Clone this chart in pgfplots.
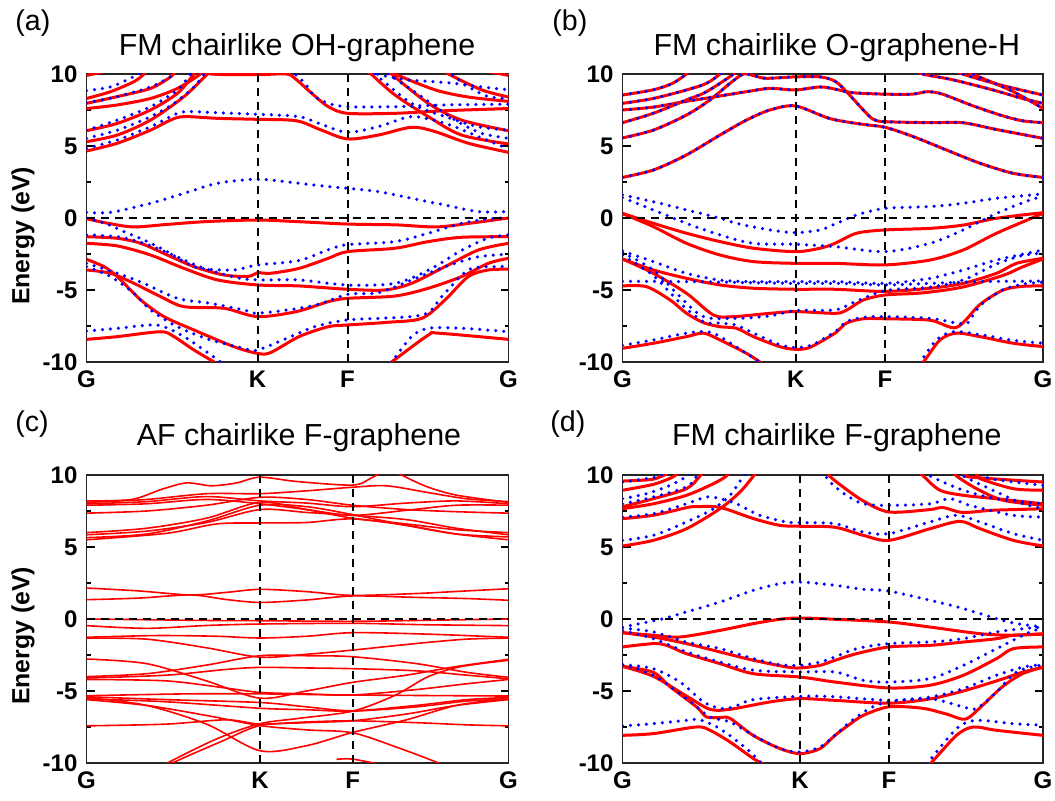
\documentclass[border=0pt]{standalone}
\usepackage{fontspec}
\setmainfont{Liberation Sans}
\usepackage{pgfplots}
\pgfplotsset{compat=1.18}

% band styles: red = spin up (solid), blue = spin down (dotted)
\pgfplotsset{
  rb/.style={red, line width=1.5pt, smooth, tension=0.5, no markers},
  rc/.style={red, line width=0.8pt, smooth, tension=0.5, no markers},
  bb/.style={blue, line width=1.75pt, line cap=round, dash pattern=on 0pt off 4pt, smooth, tension=0.5, no markers},
  rbb/.style={bb, preaction={draw=red, solid, line width=1.5pt, line cap=butt}},
  guide/.style={black, line width=1pt, dash pattern=on 4pt off 3pt, no markers},
  bandaxis/.style={
    scale only axis, height=144pt, anchor=south west,
    xmin=0, ymin=-10, ymax=10,
    ytick={-10,-5,0,5,10}, yticklabels={-10,-5,0,5,10},
    minor ytick={-7.5,-2.5,2.5,7.5},
    xticklabels={G,K,F,G},
    tick align=inside, major tick length=4pt, minor tick length=2pt,
    every tick/.style={black, line width=0.6pt},
    axis line style={black!85, line width=0.7pt},
    ticklabel style={font=\fontsize{12}{12}\selectfont\bfseries},
    yticklabel style={xshift=-1pt},
    xticklabel style={yshift=-1pt},
  },
}

\begin{document}
\begin{tikzpicture}
\path[use as bounding box] (0,0) rectangle (527.5pt,400.5pt);

% ---------------- (a) FM chairlike OH-graphene ----------------
\begin{axis}[bandaxis, at={(43.25pt,219.5pt)}, width=211pt, xmax=422, xtick={0,171,261,422}]
\addplot[rb] coordinates {(0,-0.05) (20,-0.35) (47,-0.62) (80,-0.45) (120,-0.25) (171,-0.14) (210,-0.25) (261,-0.42) (310,-0.48) (350,-0.62) (385,-0.35) (422,0)};
\addplot[rb] coordinates {(0,-1.3) (30.8,-1.41) (54.2,-1.76) (80.8,-2.57) (107.5,-3.38) (137.5,-3.96) (162,-4.05) (171,-3.8) (184,-3.84) (212.5,-3.5) (241.8,-2.8) (261,-2.34) (308.5,-2.1) (341.8,-1.64) (375,-1.34) (422,-1.3)};
\addplot[rb] coordinates {(0,-1.76) (30.8,-1.94) (64,-2.57) (97.5,-3.5) (131,-4.3) (171,-4.65) (212.5,-4.72) (261,-4.95) (298.5,-5.0) (325,-4.54) (358.5,-3.38) (392,-2.22) (422,-1.76)};
\addplot[rb] coordinates {(0,-2.87) (17.5,-3.38) (30.8,-4.07) (54.2,-5.69) (77.5,-6.85) (107.5,-7.78) (147.5,-8.94) (171,-9.4) (184,-9.35) (212.5,-8.24) (241.8,-7.55) (261,-7.43) (300,-7.25) (335.2,-6.97) (358.5,-5.69) (381.8,-4.07) (401.8,-3.61) (422,-3.56)};
\addplot[rb] coordinates {(0,-3.61) (24,-3.84) (47.5,-4.54) (74,-5.46) (97.5,-6.16) (137.5,-6.27) (171,-6.85) (210,-6.5) (241.8,-5.81) (261,-5.58) (308.5,-5.42) (341.8,-4.88) (375,-4.07) (401.8,-3.15) (422,-2.8)};
\addplot[rb] coordinates {(0,-8.43) (30.8,-8.24) (74,-7.9) (87.5,-8.24) (107.5,-9.17) (127.5,-10) (140,-10.6)};
\addplot[rb] coordinates {(290,-10.7) (305,-10) (341.8,-8.13) (351.8,-8.0) (422,-8.43)};
\addplot[rb] coordinates {(0,4.65) (30.8,5.19) (64,6.1) (84,6.8) (97.5,7.04) (131,6.92) (171,6.85) (210,6.75) (235,6.1) (261,5.49) (291.8,5.76) (325,6.3) (348.5,6.0) (381.8,5.19) (422,4.56)};
\addplot[rb] coordinates {(0,5.3) (30.8,5.76) (64,6.8) (97.5,8.43) (121,10) (130,10.6)};
\addplot[rb] coordinates {(275,10.6) (284.5,10) (308.5,8.54) (341.8,7.04) (375,5.76) (422,5.14)};
\addplot[rb] coordinates {(0,6.06) (30.8,6.57) (64,7.5) (91,8.66) (107.5,10) (112,10.5)};
\addplot[rb] coordinates {(298,10.5) (305,10) (341.8,7.96) (375,6.8) (422,6.06)};
\addplot[rb] coordinates {(0,7.6) (30.8,7.85) (64,8.3) (91,9.0) (114,10) (118,10.4)};
\addplot[rb] coordinates {(0,7.96) (30.8,8.43) (64,9.0) (84,9.8) (90,10.3)};
\addplot[rb] coordinates {(0,8.3) (24,8.77) (47.5,9.47) (57.5,10) (60,10.3)};
\addplot[rb] coordinates {(0,9.9) (20,10.2)};
\addplot[rb] coordinates {(110,10.4) (125,10) (171,9.95) (200,10) (210,9.6) (225.2,8.66) (241.8,7.73) (261,7.27) (308.5,7.27) (358.5,7.45) (422,7.6)};
\addplot[rb] coordinates {(300,10.4) (308.5,10) (348.5,8.9) (381.8,8.4) (422,8.1)};
\addplot[rb] coordinates {(355,10.4) (362,10) (395,8.9) (422,8.4)};
\addplot[rb] coordinates {(400,10.2) (422,9.9)};
\addplot[bb] coordinates {(0,0.39) (24,0.39) (64,1.02) (97.5,1.71) (131,2.41) (171,2.69) (212.5,2.41) (241.8,2.18) (261,2.06) (291.8,1.83) (325,1.37) (358.5,0.9) (392,0.44) (422,0.44)};
\addplot[bb] coordinates {(0,0) (20,-0.4) (37.5,-0.95) (57.5,-1.53) (77.5,-2.22) (97.5,-3.03) (114,-3.5) (147.5,-3.61) (171,-3.26) (212.5,-2.96) (241.8,-2.2) (261,-1.85) (308.5,-1.64) (341.8,-1.06) (375,-0.37) (401.8,-0.07) (422,0)};
\addplot[bb] coordinates {(0,-1.18) (30.8,-1.3) (57.5,-1.76) (87.5,-2.6) (114,-3.4) (147.5,-4.1) (171,-4.3) (212.5,-4.3) (261,-4.66) (308.5,-4.54) (341.8,-3.63) (375,-2.25) (401.8,-1.4) (422,-1.18)};
\addplot[bb] coordinates {(0,-3.15) (30.8,-3.84) (57.5,-4.54) (90.8,-5.58) (124,-5.93) (157.5,-6.39) (171,-6.62) (212.5,-6.27) (235.2,-5.93) (261,-5.3) (291.8,-5.19) (325,-4.31) (358.5,-3.38) (392,-2.69) (422,-2.52)};
\addplot[bb] coordinates {(0,-3.38) (24,-4.07) (47.5,-5.23) (64,-6.39) (90.8,-7.55) (124,-8.47) (157.5,-9.05) (171,-9.17) (212.5,-8.0) (228.5,-7.55) (261,-7.08) (335.2,-6.74) (355.2,-5.46) (381.8,-3.61) (408.5,-3.38) (422,-3.38)};
\addplot[bb] coordinates {(0,-7.85) (30.8,-7.66) (64,-7.43) (77.5,-7.55) (97.5,-8.24) (117.5,-9.17) (134,-10) (140,-10.4)};
\addplot[bb] coordinates {(298,-10.4) (305,-10) (325,-8.24) (341.8,-7.66) (375,-7.66) (422,-7.9)};
\addplot[bb] coordinates {(0,4.84) (30.8,5.42) (64,6.34) (84,7.04) (97.5,7.38) (131,7.31) (171,7.2) (212.5,7.04) (235,6.5) (261,5.95) (291.8,6.34) (325,7.04) (358.5,6.57) (392,5.65) (422,4.79)};
\addplot[bb] coordinates {(0,5.53) (30.8,6.1) (64,7.04) (87.5,7.96) (107.5,9.1) (117.5,10) (122,10.4)};
\addplot[bb] coordinates {(296,10.4) (301.8,10) (335,8.43) (368.5,6.8) (395,5.88) (422,5.53)};
\addplot[bb] coordinates {(0,6.1) (30.8,6.8) (64,7.73) (91,8.9) (104,10) (108,10.4)};
\addplot[bb] coordinates {(283,10.4) (288.5,10) (325,7.96) (358.5,7.04) (392,6.34) (422,6.1)};
\addplot[bb] coordinates {(0,8.85) (24,9.1) (40.8,9.6) (52,10) (56,10.3)};
\addplot[bb] coordinates {(0,8.0) (30.8,8.43) (64,9.1) (84,9.8) (90,10.2)};
\addplot[bb] coordinates {(205,10.4) (208.5,10) (218.5,9.35) (228.5,8.43) (241.8,7.96) (261,7.73) (308.5,7.73) (358.5,7.85) (422,7.9)};
\addplot[bb] coordinates {(285,10.3) (290,10) (320,9.6) (360,9.4) (395,9.1) (422,8.9)};
\addplot[bb] coordinates {(360,10.3) (365,10) (382,9.1) (402,8.43) (422,8.3)};
\addplot[guide] coordinates {(171,-10) (171,10)};
\addplot[guide] coordinates {(261,-10) (261,10)};
\addplot[guide] coordinates {(0,0) (422,0)};
\end{axis}

% ---------------- (b) FM chairlike O-graphene-H ----------------
\begin{axis}[bandaxis, at={(311.25pt,219.5pt)}, width=210.25pt, xmax=420.5, xtick={0,173.2,262.5,420.5}]
\addplot[rbb] coordinates {(0,2.82) (30.8,3.33) (64,4.38) (97.5,5.76) (124,6.8) (147.5,7.5) (173,7.78) (207.5,6.9) (240.8,6.5) (262.5,6.3) (290.8,5.65) (324,4.72) (357.5,3.8) (390.8,3.1) (420.5,2.82)};
\addplot[rbb] coordinates {(0,5.56) (30.8,6.1) (64,7.15) (87.5,8.2) (107.5,9.35) (121,10) (133,9.85) (144,9.7) (173,9.8) (197.5,9.8) (212.5,9.5) (224,8.77) (240.8,7.5) (250.8,6.85) (262.5,6.69) (307.5,6.62) (340,6.62) (370,6.2) (400,5.8) (420.5,5.53)};
\addplot[rbb] coordinates {(0,7.5) (30.8,7.7) (64,8.1) (91,8.4) (124,8.77) (147.5,9.0) (173,8.89) (197.5,9.1) (212.5,8.95) (230,8.7) (262.5,8.6) (290,8.6) (305,8.77) (320,8.6) (350,7.8) (380,7.1) (400,6.75) (420.5,6.62)};
\addplot[rbb] coordinates {(0,6.62) (30.8,7.27) (64,8.2) (81,8.66) (97.5,9.35) (111,10) (115,10.3)};
\addplot[rbb] coordinates {(0,7.96) (30.8,8.3) (64,8.89) (84,9.35) (97.5,10) (100,10.3)};
\addplot[rbb] coordinates {(0,8.54) (30.8,8.9) (50,9.35) (64,10) (67,10.3)};
\addplot[rbb] coordinates {(295,10.3) (300,10) (330,9.6) (370,8.9) (400,8.3) (420.5,7.96)};
\addplot[rbb] coordinates {(335,10.3) (340,10) (380,9.2) (420.5,8.54)};
\addplot[rbb] coordinates {(345,10.3) (350,10) (390,8.8) (420.5,7.6)};
\addplot[rb] coordinates {(0,0.32) (30.8,-0.37) (64,-1.06) (97.5,-1.64) (131,-2.1) (173,-2.34) (197.5,-2.1) (212.5,-1.76) (234,-1.06) (262.5,-0.83) (307.5,-0.72) (340.8,-0.49) (374,-0.02) (420.5,0.37)};
\addplot[rb] coordinates {(0,0.3) (30.8,-0.6) (64,-1.76) (97.5,-2.57) (131,-3.03) (173,-3.15) (212.5,-3.15) (262.5,-3.26) (307.5,-2.92) (340.8,-2.22) (374,-1.06) (420.5,0.32)};
\addplot[rb] coordinates {(0,-2.85) (30.8,-3.61) (64,-4.19) (97.5,-4.65) (131,-4.88) (173,-4.95) (212.5,-4.95) (262.5,-5.1) (307.5,-4.88) (340.8,-4.54) (374,-3.84) (394,-3.15) (420.5,-2.8)};
\addplot[rb] coordinates {(0,-2.85) (30.8,-3.84) (64,-5.23) (91,-6.74) (111,-6.85) (147.5,-6.62) (173,-6.5) (212.5,-6.62) (224,-6.4) (240.8,-5.7) (262.5,-5.35) (300,-5.2) (340,-4.8) (380,-4.0) (400,-3.4) (420.5,-2.85)};
\addplot[rb] coordinates {(0,-4.72) (24,-4.77) (47.5,-5.69) (64,-6.62) (81,-7.27) (97.5,-7.55) (114,-7.66) (131,-8.24) (157.5,-8.94) (173,-9.12) (187.5,-8.98) (212.5,-8.0) (224,-7.3) (240.8,-7.0) (262.5,-7.0) (307.5,-7.1) (334,-7.6) (357.5,-6.0) (380.8,-5.0) (400,-4.75) (420.5,-4.72)};
\addplot[rb] coordinates {(0,-9.05) (30.8,-8.7) (64,-8.24) (81,-8.0) (97.5,-8.47) (124,-9.4) (137.5,-10) (150,-10.5)};
\addplot[rb] coordinates {(290,-10.5) (300.8,-10) (317.5,-8.47) (334,-8.0) (357.5,-8.24) (390.8,-8.7) (420.5,-8.93)};
\addplot[bb] coordinates {(0,1.6) (30.8,1.13) (64,0.56) (97.5,-0.02) (114,-0.37) (147.5,-0.83) (173,-1.02) (197.5,-0.83) (212.5,-0.42) (234,0.21) (262.5,0.67) (307.5,0.79) (340.8,1.02) (374,1.37) (420.5,1.67)};
\addplot[bb] coordinates {(0,1.41) (30.8,0.56) (64,-0.37) (97.5,-1.18) (131,-1.76) (173,-1.83) (212.5,-1.99) (262.5,-2.34) (307.5,-1.76) (340.8,-0.83) (374,0.32) (407.5,1.25) (420.5,1.48)};
\addplot[bb] coordinates {(0,-2.29) (30.8,-3.03) (64,-3.84) (97.5,-4.31) (131,-4.42) (173,-4.42) (212.5,-4.42) (262.5,-4.54) (307.5,-4.19) (340.8,-3.61) (374,-2.92) (420.5,-2.22)};
\addplot[bb] coordinates {(0,-4.4) (64,-4.42) (173,-4.54) (212.5,-4.54) (262.5,-4.65) (307.5,-4.54) (357.5,-4.42) (420.5,-4.38)};
\addplot[bb] coordinates {(0,-2.4) (30.8,-3.61) (57.5,-5.46) (81,-6.85) (114,-6.97) (147.5,-6.8) (173,-6.43) (212.5,-6.39) (230,-5.9) (262.5,-5.05) (307.5,-4.8) (340.8,-4.3) (374,-3.2) (400,-2.6) (420.5,-2.45)};
\addplot[bb] coordinates {(0,-2.6) (30.8,-4.0) (57.5,-5.9) (81,-7.2) (97.5,-7.3) (114,-7.45) (131,-8.0) (157.5,-8.8) (173,-9.0) (190,-8.8) (212.5,-7.9) (224,-7.2) (240.8,-6.9) (262.5,-6.85) (307.5,-6.97) (334,-7.3) (345,-7.3) (357.5,-6.1) (380,-5.0) (400,-4.6) (420.5,-4.45)};
\addplot[bb] coordinates {(0,-8.84) (30.8,-8.47) (64,-8.0) (84,-7.9) (97.5,-8.24) (124,-9.4) (137.5,-10) (145,-10.4)};
\addplot[bb] coordinates {(290,-10.4) (297.5,-10) (314,-8.47) (330.8,-7.9) (357.5,-8.1) (390.8,-8.5) (420.5,-8.7)};
\addplot[guide] coordinates {(173.2,-10) (173.2,10)};
\addplot[guide] coordinates {(262.5,-10) (262.5,10)};
\addplot[guide] coordinates {(0,0) (420.5,0)};
\end{axis}

% ---------------- (c) AF chairlike F-graphene ----------------
\begin{axis}[bandaxis, at={(43.25pt,19pt)}, width=211pt, xmax=422, xtick={0,173.5,266.2,422}]
\addplot[rc] coordinates {(0,8.2) (45,8.3) (75,9.0) (100,9.45) (125,9.25) (150,9.45) (173.5,9.85) (210,9.55) (266,9.3) (285,9.8) (300,10.4)};
\addplot[rc] coordinates {(0,8.1) (60,8.3) (120,8.7) (173.5,8.7) (220,8.9) (266,9.15) (300,9.25) (340,8.8) (380,8.35) (422,8.15)};
\addplot[rc] coordinates {(0,8.0) (60,8.15) (120,8.5) (173.5,8.2) (220,8.05) (266,7.8) (320,8.05) (370,8.2) (422,8.0)};
\addplot[rc] coordinates {(0,7.9) (60,8.0) (120,8.3) (173.5,8.0) (220,7.6) (266,7.2) (320,7.55) (370,7.9) (422,7.9)};
\addplot[rc] coordinates {(0,7.35) (60,7.5) (120,7.9) (173.5,8.45) (220,8.3) (266,7.9) (320,7.6) (370,7.45) (422,7.35)};
\addplot[rc] coordinates {(0,6.0) (60,6.3) (120,7.0) (173.5,8.1) (220,7.6) (266,7.0) (320,6.6) (370,6.2) (422,6.0)};
\addplot[rc] coordinates {(0,5.85) (60,6.1) (120,6.7) (173.5,7.6) (220,7.4) (266,7.2) (320,6.9) (370,6.3) (422,5.85)};
\addplot[rc] coordinates {(0,5.65) (60,5.9) (120,6.8) (173.5,7.9) (220,7.8) (266,7.25) (320,6.5) (370,5.9) (422,5.7)};
\addplot[rc] coordinates {(0,5.5) (80,5.95) (130,6.6) (173.5,6.67) (220,6.7) (266,6.95) (320,6.5) (370,5.9) (422,5.5)};
\addplot[rc] coordinates {(305,10.4) (315,10) (340,9.2) (370,8.6) (422,8.1)};
\addplot[rc] coordinates {(0,2.15) (52,1.95) (104,1.67) (140,1.85) (173.5,2.06) (220,1.9) (266,1.64) (330,1.77) (380,1.95) (422,2.1)};
\addplot[rc] coordinates {(0,1.34) (52,1.45) (104,1.67) (140,1.35) (173.5,1.15) (220,1.32) (266,1.6) (330,1.5) (380,1.42) (422,1.3)};
\addplot[rc] coordinates {(0,0) (120,-0.1) (173.5,-0.12) (266,-0.16) (350,-0.08) (422,0)};
\addplot[rc] coordinates {(0,-0.46) (60,-0.65) (120,-0.45) (173.5,-0.35) (266,-0.3) (340,-0.4) (422,-0.46)};
\addplot[rc] coordinates {(0,-1.27) (70,-1.15) (130,-1.2) (173.5,-1.32) (220,-1.2) (266,-0.95) (340,-1.05) (422,-1.27)};
\addplot[rc] coordinates {(0,-1.33) (60,-1.4) (120,-2.0) (173.5,-2.65) (220,-2.45) (266,-2.16) (330,-1.7) (380,-1.4) (422,-1.33)};
\addplot[rc] coordinates {(0,-4.0) (60,-3.8) (120,-3.2) (173.5,-2.55) (220,-2.55) (266,-2.62) (330,-3.1) (380,-3.7) (422,-4.05)};
\addplot[rc] coordinates {(0,-4.1) (80,-3.9) (140,-3.5) (173.5,-3.36) (220,-3.4) (266,-3.45) (330,-3.6) (380,-3.9) (422,-4.15)};
\addplot[rc] coordinates {(0,-4.2) (80,-4.3) (140,-4.8) (173.5,-5.1) (220,-5.2) (266,-5.28) (330,-4.9) (380,-4.5) (422,-4.2)};
\addplot[rc] coordinates {(0,-2.78) (60,-3.1) (120,-4.3) (173.5,-5.5) (220,-5.0) (266,-4.4) (320,-3.9) (370,-3.3) (422,-2.8)};
\addplot[rc] coordinates {(0,-5.45) (60,-6.0) (120,-7.3) (173.5,-9.15) (220,-8.8) (266,-7.88) (320,-7.0) (370,-6.0) (422,-5.5)};
\addplot[rc] coordinates {(0,-5.33) (100,-5.2) (173.5,-5.2) (266,-5.28) (422,-5.35)};
\addplot[rc] coordinates {(0,-5.4) (80,-5.6) (173.5,-5.8) (220,-6.1) (266,-6.37) (330,-6.0) (380,-5.6) (422,-5.45)};
\addplot[rc] coordinates {(0,-5.55) (80,-5.75) (173.5,-6.2) (220,-6.3) (266,-6.4) (330,-6.1) (380,-5.7) (422,-5.55)};
\addplot[rc] coordinates {(0,-7.42) (80,-7.3) (140,-7.0) (173.5,-7.3) (220,-7.15) (266,-7.07) (330,-7.2) (380,-7.35) (422,-7.42)};
\addplot[rc] coordinates {(70,-10.6) (81,-10.0) (131,-8.3) (173.5,-7.27) (212.5,-6.9) (266,-6.4) (308.5,-5.3) (341.8,-4.0) (375,-3.3) (422,-2.87)};
\addplot[rc] coordinates {(75,-10.6) (86,-10.0) (135,-8.5) (173.5,-7.4) (220,-7.2) (266,-7.07) (320,-6.6) (370,-6.0) (422,-5.6)};
\addplot[rc] coordinates {(0,-5.6) (60,-6.0) (120,-6.7) (173.5,-7.4) (220,-7.7) (266,-7.9) (310,-8.9) (352,-10) (365,-10.5)};
\addplot[rc] coordinates {(250,-9.75) (266,-9.73) (300,-10.2) (310,-10.5)};
\addplot[guide] coordinates {(173.5,-10) (173.5,10)};
\addplot[guide] coordinates {(266.2,-10) (266.2,10)};
\addplot[guide] coordinates {(0,0) (422,0)};
\end{axis}

% ---------------- (d) FM chairlike F-graphene ----------------
\begin{axis}[bandaxis, at={(311.25pt,19pt)}, width=210.25pt, xmax=420.5, xtick={0,177.5,266.5,420.5}]
\addplot[rb] coordinates {(0,-0.95) (30.8,-1.13) (57.5,-1.25) (97.5,-0.79) (131,-0.32) (157.5,-0.02) (177.5,0.07) (212.5,-0.02) (266.5,-0.21) (307.5,-0.56) (357.5,-1.02) (390.8,-1.13) (420.5,-1.02)};
\addplot[rb] coordinates {(0,-0.95) (30.8,-1.25) (64,-1.71) (97.5,-2.29) (131,-2.87) (164,-3.33) (177.5,-3.4) (197.5,-3.22) (212.5,-2.87) (234,-2.41) (266.5,-1.94) (307.5,-1.83) (340.8,-1.6) (374,-1.37) (390.8,-1.13) (420.5,-1.06)};
\addplot[rb] coordinates {(0,-1.94) (30.8,-1.71) (44,-1.83) (64,-2.41) (97.5,-3.1) (131,-3.8) (177.5,-4.03) (212.5,-4.38) (266.5,-4.79) (307.5,-4.6) (340.8,-3.91) (374,-2.75) (390.8,-2.06) (420.5,-1.94)};
\addplot[rb] coordinates {(0,-3.29) (30.8,-3.7) (47.5,-4.7) (74,-6.1) (84,-6.8) (97.5,-6.85) (107.5,-6.9) (131,-8.1) (157.5,-9.0) (177.5,-9.35) (197.5,-9.0) (212.5,-8.08) (227.5,-7.3) (240.8,-6.69) (266.5,-6.1) (300,-6.2) (324,-6.6) (343,-6.95) (360,-6.0) (380,-4.7) (400,-3.8) (420.5,-3.35)};
\addplot[rb] coordinates {(0,-3.29) (30.8,-3.98) (64,-5.35) (87.5,-6.27) (107.5,-6.27) (147.5,-5.76) (177.5,-5.53) (212.5,-5.65) (266.5,-5.85) (307.5,-5.55) (340.8,-5.0) (374,-4.3) (400,-3.7) (420.5,-3.35)};
\addplot[rb] coordinates {(0,-8.08) (30.8,-7.96) (74,-7.5) (87.5,-7.73) (107.5,-8.54) (131,-9.7) (141,-10.07) (150,-10.5)};
\addplot[rb] coordinates {(298,-10.5) (307.5,-10.07) (334,-8.08) (350.8,-7.5) (374,-7.73) (420.5,-8.08)};
\addplot[rb] coordinates {(0,5.07) (30.8,5.46) (64,6.27) (97.5,7.66) (117.5,8.82) (131,9.93) (135,10.3)};
\addplot[rb] coordinates {(0,6.97) (30.8,7.2) (64,7.73) (74,7.8) (97.5,7.75) (131,6.97) (157.5,6.5) (177.5,6.44) (212.5,6.37) (240.8,5.81) (266.5,5.46) (307.5,6.27) (337.5,6.78) (357.5,6.27) (390.8,5.46) (420.5,5.07)};
\addplot[rb] coordinates {(0,7.66) (30.8,8.0) (64,8.59) (91,9.4) (104,9.93) (107,10.3)};
\addplot[rb] coordinates {(205,10.3) (207.5,9.9) (220,9.2) (240.8,8.2) (266.5,7.43) (307.5,7.6) (320,7.75) (340,7.4) (370,7.55) (420.5,7.65)};
\addplot[rb] coordinates {(0,8.94) (30.8,9.35) (50,9.85) (58,10.3)};
\addplot[rb] coordinates {(0,9.58) (30,9.7) (45,10.1)};
\addplot[rb] coordinates {(0,7.8) (30.8,8.35) (64,9.05) (77.5,9.93) (80,10.3)};
\addplot[rb] coordinates {(296,10.3) (300.8,9.93) (317.5,8.94) (340.8,8.59) (374,8.35) (420.5,8.0)};
\addplot[rb] coordinates {(330,10.3) (334,9.93) (354,9.05) (380.8,8.24) (420.5,7.9)};
\addplot[rb] coordinates {(345,10.1) (347.5,9.86) (420.5,9.51)};
\addplot[rb] coordinates {(355,10.1) (357.5,9.75) (390.8,9.05) (420.5,8.94)};
\addplot[bb] coordinates {(0,-0.56) (17.5,-0.32) (40.8,0.02) (64,0.49) (97.5,1.18) (131,1.99) (157.5,2.45) (177.5,2.57) (212.5,2.34) (240.8,2.06) (266.5,1.94) (307.5,1.3) (340.8,0.72) (374,0.02) (394,-0.32) (420.5,-0.56)};
\addplot[bb] coordinates {(0,-0.63) (30.8,-0.9) (64,-1.6) (97.5,-2.06) (131,-2.75) (157.5,-3.17) (177.5,-3.22) (197.5,-2.99) (212.5,-2.64) (234,-2.06) (266.5,-1.71) (307.5,-1.6) (340.8,-1.37) (374,-0.9) (400.8,-0.67) (420.5,-0.56)};
\addplot[bb] coordinates {(0,-0.79) (30.8,-1.37) (64,-2.29) (97.5,-2.99) (131,-3.56) (177.5,-3.68) (212.5,-3.68) (240.8,-4.26) (266.5,-4.38) (307.5,-4.14) (340.8,-3.22) (374,-2.06) (407.5,-0.9) (420.5,-0.67)};
\addplot[bb] coordinates {(0,-3.17) (30.8,-3.45) (57.5,-4.38) (81,-5.76) (97.5,-6.2) (111,-6.1) (131,-5.6) (177.5,-5.37) (212.5,-5.4) (266.5,-5.65) (307.5,-5.42) (340.8,-4.84) (374,-3.91) (400.8,-3.33) (420.5,-3.17)};
\addplot[bb] coordinates {(0,-3.17) (30.8,-3.91) (64,-5.53) (87.5,-6.8) (107.5,-7.15) (131,-8.08) (157.5,-9.0) (177.5,-9.24) (197.5,-8.89) (212.5,-8.08) (227.5,-7.15) (247.5,-6.2) (266.5,-5.76) (307.5,-5.53) (340.8,-6.11) (354,-6.22) (374,-5.07) (394,-3.68) (420.5,-3.17)};
\addplot[bb] coordinates {(0,-7.43) (30.8,-7.27) (64,-7.04) (77.5,-7.0) (97.5,-7.62) (124,-9.0) (137.5,-9.93) (142,-10.4)};
\addplot[bb] coordinates {(298,-10.4) (304.2,-10.07) (334,-7.62) (354,-7.04) (390.8,-7.27) (420.5,-7.38)};
\addplot[bb] coordinates {(0,5.46) (30.8,5.81) (64,6.74) (91,7.66) (107.5,8.59) (121,9.93) (125,10.3)};
\addplot[bb] coordinates {(0,7.08) (30.8,7.31) (64,8.0) (84,8.47) (97.5,8.36) (114,8.0) (137.5,7.2) (164,6.74) (177.5,6.69) (212.5,6.62) (240.8,6.04) (266.5,5.93) (307.5,6.74) (334,7.2) (357.5,6.74) (390.8,5.93) (420.5,5.46)};
\addplot[bb] coordinates {(200,10.3) (207.5,9.51) (224,8.59) (240.8,8.0) (266.5,7.89) (307.5,8.0) (327.5,8.36) (347.5,7.89) (390.8,7.2) (420.5,7.08)};
\addplot[bb] coordinates {(0,8.0) (30.8,8.47) (64,9.17) (74,9.9) (76,10.3)};
\addplot[bb] coordinates {(0,8.36) (24,8.7) (47.5,9.28) (64,9.9) (66,10.3)};
\addplot[bb] coordinates {(0,9.51) (24,9.75) (37.5,9.93) (42,10.3)};
\addplot[bb] coordinates {(303,10.3) (307.5,9.93) (340.8,8.94) (374,8.36) (420.5,8.0)};
\addplot[bb] coordinates {(337,10.3) (340.8,9.93) (374,8.82) (400.8,8.0) (420.5,7.66)};
\addplot[bb] coordinates {(360,10.2) (367.5,9.75) (420.5,9.28)};
\addplot[guide] coordinates {(177.5,-10) (177.5,10)};
\addplot[guide] coordinates {(266.5,-10) (266.5,10)};
\addplot[guide] coordinates {(0,0) (420.5,0)};
\end{axis}

% titles, panel letters and axis labels
\node[anchor=base, font=\fontsize{15.2}{16}\selectfont] at (148.5pt,372.5pt) {FM chairlike OH-graphene};
\node[anchor=base, font=\fontsize{15.2}{16}\selectfont] at (418.4pt,372.5pt) {FM chairlike O-graphene-H};
\node[anchor=base, font=\fontsize{15.2}{16}\selectfont] at (149.5pt,177.75pt) {AF chairlike F-graphene};
\node[anchor=base, font=\fontsize{15.2}{16}\selectfont] at (418.4pt,177.75pt) {FM chairlike F-graphene};
\node[anchor=base west, inner sep=0pt, font=\fontsize{14.3}{15}\selectfont] at (7.5pt,385pt) {(a)};
\node[anchor=base west, inner sep=0pt, font=\fontsize{14.3}{15}\selectfont] at (276pt,385pt) {(b)};
\node[anchor=base west, inner sep=0pt, font=\fontsize{14.3}{15}\selectfont] at (7.5pt,184.5pt) {(c)};
\node[anchor=base west, inner sep=0pt, font=\fontsize{14.3}{15}\selectfont] at (275pt,184.5pt) {(d)};
\node[rotate=90, font=\fontsize{12.4}{13}\selectfont\bfseries] at (11.5pt,282.5pt) {Energy (eV)};
\node[rotate=90, font=\fontsize{12.4}{13}\selectfont\bfseries] at (11.5pt,82.5pt) {Energy (eV)};
\end{tikzpicture}
\end{document}
